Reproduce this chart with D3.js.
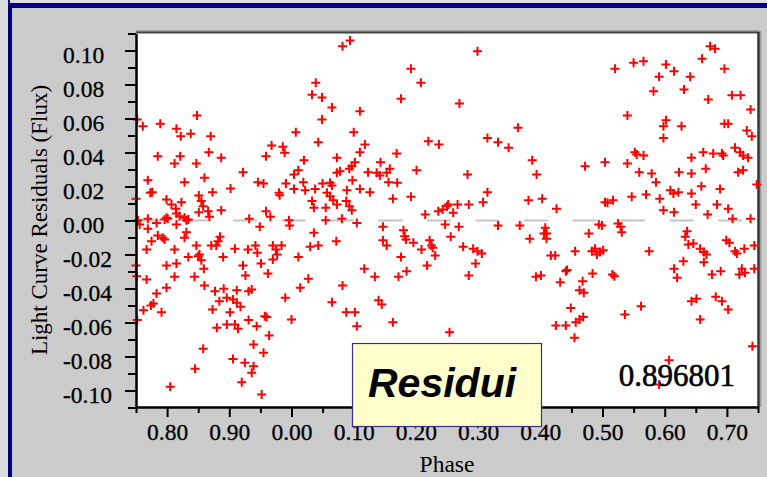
<!DOCTYPE html>
<html><head><meta charset="utf-8">
<script src="https://cdn.jsdelivr.net/npm/d3@7"></script>
<style>html,body{margin:0;padding:0;background:#cccccc;overflow:hidden}svg{display:block}</style>
</head><body>
<svg id="chart" width="767" height="477"></svg>
<script>
// ---- data (phase in [0,1), residual flux) ----
const phase = [
0.082,0.094,0.192,0.208,0.039,0.033,0.049,0.176,0.065,0.110,0.848,0.752,0.761,0.789,0.049,0.815,0.822,0.838,0.870,0.007,
0.100,0.299,0.270,0.364,0.315,0.520,0.550,0.566,0.591,0.602,0.615,0.641,0.582,0.631,0.660,0.673,0.681,0.696,0.670,0.708,
0.722,0.738,0.540,0.602,0.598,0.627,0.598,0.696,0.702,0.732,0.740,0.968,0.986,0.989,0.959,0.785,0.821,0.812,0.867,0.887,
0.847,0.922,0.769,0.828,0.860,0.946,0.955,0.991,0.902,0.773,0.776,0.980,0.981,0.873,0.750,0.799,0.851,0.807,0.814,0.823,
0.855,0.858,0.851,0.866,0.868,0.887,0.799,0.796,0.801,0.815,0.820,0.828,0.834,0.831,0.753,0.769,0.783,0.756,0.769,0.959,
0.966,0.932,0.949,0.996,0.997,0.785,0.793,0.796,0.815,0.831,0.828,0.767,0.775,0.812,0.847,0.885,0.882,0.871,0.879,0.852,
0.850,0.855,0.834,0.890,0.909,0.930,0.942,0.945,0.970,0.984,0.975,0.977,0.970,0.951,0.962,0.922,0.926,0.750,0.751,0.799,
0.815,0.812,0.844,0.859,0.767,0.799,0.860,0.891,0.043,0.118,0.110,0.169,0.220,0.237,0.020,0.073,0.102,0.097,0.143,0.201,
0.011,0.004,0.073,0.078,0.093,0.123,0.137,0.142,0.153,0.158,0.019,0.022,0.004,0.038,0.050,0.062,0.065,0.098,0.089,0.110,
0.126,0.156,0.170,0.057,0.062,0.067,0.033,0.036,0.055,0.073,0.088,0.093,0.097,0.163,0.192,0.215,0.236,0.243,0.250,0.055,
0.081,0.105,0.147,0.180,0.182,0.184,0.247,0.036,0.072,0.147,0.153,0.196,0.209,0.222,0.225,0.227,0.231,0.030,0.043,0.011,
0.176,0.218,0.185,0.172,0.117,0.134,0.027,0.014,0.082,0.332,0.349,0.387,0.394,0.283,0.472,0.315,0.308,0.285,0.252,0.267,
0.260,0.381,0.403,0.426,0.332,0.367,0.408,0.410,0.406,0.410,0.383,0.269,0.256,0.494,0.478,0.276,0.292,0.299,0.306,0.296,
0.285,0.417,0.424,0.456,0.483,0.488,0.491,0.496,0.441,0.443,0.432,0.393,0.401,0.484,0.468,0.552,0.555,0.566,0.504,0.540,
0.559,0.579,0.586,0.643,0.662,0.678,0.692,0.694,0.713,0.721,0.726,0.734,0.666,0.623,0.643,0.718,0.726,0.748,0.659,0.689,
0.504,0.508,0.517,0.547,0.570,0.592,0.609,0.614,0.622,0.643,0.650,0.684,0.702,0.598,0.615,0.669,0.709,0.738,0.499,0.525,
0.529,0.531,0.636,0.633,0.501,0.575,0.638,0.646,0.657,0.663,0.667,0.699,0.704,0.713,0.716,0.728,0.744,0.630,0.663,0.615,
0.620,0.676,0.690,0.720,0.724,0.729,0.744,0.516,0.519,0.877,0.912,0.931,0.936,0.896,0.884,0.906,0.912,0.873,0.901,0.918,
0.990,0.783,0.778,0.774,0.762,0.791,0.752,0.880,0.896,0.909,0.914,0.931,0.944,0.957,0.960,0.964,0.000,0.858,0.939,0.955,
0.906,0.925,0.939,0.936,0.845,0.920,0.805,0.952,0.065,0.088,0.102,0.105,0.140,0.145,0.163,0.254,0.449,0.425,0.441,0.457,
0.469,0.463,0.455,0.536,0.562,0.607,0.591,0.657,0.643,0.651,0.682,0.692,0.702,0.741,0.463,0.470
];
const flux = [
0.1025,0.1059,0.0892,0.0810,0.0810,0.0739,0.0724,0.0716,0.0665,0.0643,0.0618,0.0594,0.0555,0.0569,0.0594,0.0539,0.0496,0.0510,0.0496,0.0519,
0.0519,0.0996,0.0688,0.0545,0.0486,0.0892,0.0928,0.0937,0.0845,0.0918,0.0878,0.0845,0.0761,0.0771,0.0951,0.1025,0.1010,0.0892,0.0712,0.0737,
0.0737,0.0653,0.0618,0.0590,0.0555,0.0555,0.0486,0.0569,0.0569,0.0529,0.0496,0.0441,0.0434,0.0398,0.0378,0.0378,0.0378,0.0335,0.0402,0.0369,
0.0335,0.0284,0.0237,0.0225,0.0251,0.0225,0.0218,0.0218,0.0188,0.0163,0.0166,0.0163,0.0149,0.0166,0.0128,0.0124,0.0147,0.0094,0.0069,0.0108,
0.0114,0.0084,0.0049,0.0055,0.0022,0.0061,0.0016,0.0006,0.0010,0.0041,0.0025,0.0016,0.0006,0.0002,0.0002,0.0010,-0.0014,-0.0024,-0.0049,0.0055,
0.0022,0.0010,-0.0037,0.0002,-0.0029,-0.0088,-0.0102,-0.0112,-0.0024,-0.0069,-0.0102,-0.0171,-0.0122,-0.0171,-0.0147,-0.0096,-0.0122,-0.0147,-0.0147,-0.0200,
-0.0210,-0.0234,-0.0214,-0.0214,-0.0166,-0.0171,-0.0147,-0.0190,-0.0147,-0.0147,-0.0171,-0.0200,-0.0229,-0.0253,-0.0312,-0.0265,-0.0324,-0.0265,-0.0328,-0.0265,
-0.0253,-0.0331,-0.0331,-0.0284,-0.0347,-0.0396,-0.0382,-0.0402,0.0461,0.0447,0.0402,0.0394,0.0466,0.0447,0.0355,0.0369,0.0343,0.0319,0.0343,0.0296,
0.0296,0.0271,0.0281,0.0290,0.0304,0.0284,0.0281,0.0265,0.0281,0.0304,0.0225,0.0178,0.0186,0.0186,0.0218,0.0222,0.0206,0.0237,0.0178,0.0186,
0.0166,0.0225,0.0222,0.0163,0.0143,0.0119,0.0114,0.0075,0.0075,0.0094,0.0114,0.0084,0.0061,0.0128,0.0139,0.0035,0.0055,0.0065,0.0084,0.0002,
0.0010,-0.0014,-0.0037,-0.0057,-0.0092,-0.0112,-0.0024,-0.0072,-0.0122,-0.0116,-0.0147,-0.0131,-0.0171,-0.0116,-0.0147,-0.0161,-0.0206,-0.0155,-0.0147,-0.0214,
-0.0214,-0.0265,-0.0298,-0.0331,-0.0284,-0.0331,-0.0343,-0.0396,-0.0382,0.0461,0.0428,0.0355,0.0271,0.0271,0.0319,0.0166,0.0108,0.0094,0.0094,0.0094,
0.0045,0.0119,0.0128,0.0069,-0.0029,-0.0029,-0.0043,-0.0076,-0.0076,-0.0108,-0.0108,-0.0037,-0.0096,-0.0024,-0.0076,-0.0155,-0.0166,-0.0181,-0.0194,-0.0253,
-0.0324,-0.0206,-0.0206,-0.0181,-0.0181,-0.0166,-0.0200,-0.0186,-0.0298,-0.0291,-0.0363,-0.0331,-0.0324,-0.0312,-0.0357,0.0402,0.0388,0.0382,0.0343,0.0335,
0.0284,0.0276,0.0225,0.0369,0.0402,0.0394,0.0394,0.0382,0.0428,0.0402,0.0382,0.0369,0.0304,0.0284,0.0276,0.0284,0.0296,0.0212,0.0202,0.0186,
0.0108,0.0104,0.0119,0.0139,0.0153,0.0128,0.0178,0.0159,0.0166,0.0159,0.0094,0.0094,0.0069,0.0061,0.0049,0.0035,0.0010,0.0010,-0.0029,-0.0018,
-0.0037,-0.0069,-0.0063,-0.0096,-0.0175,-0.0181,-0.0141,-0.0135,-0.0166,-0.0186,-0.0200,-0.0116,-0.0131,-0.0181,-0.0194,-0.0166,-0.0147,-0.0239,-0.0245,-0.0284,
-0.0337,-0.0318,-0.0298,-0.0318,-0.0284,-0.0308,-0.0284,-0.0318,-0.0328,-0.0416,-0.0410,-0.0416,-0.0406,-0.0455,-0.0475,-0.0465,-0.0484,-0.0524,-0.0539,-0.0508,
-0.0455,-0.0429,-0.0488,-0.0500,-0.0528,-0.0539,-0.0586,-0.0631,-0.0612,-0.0612,-0.0637,-0.0586,-0.0622,-0.0563,-0.0567,-0.0676,-0.0582,-0.0755,-0.0729,-0.0778,
-0.0814,-0.0837,-0.0857,-0.0896,-0.0872,-0.0951,-0.0978,-0.1024,-0.0481,-0.0539,-0.0539,-0.0622,-0.0469,-0.0494,-0.0598,-0.0657,-0.0514,-0.0618,-0.0618,-0.0598,
-0.0567,-0.0582,-0.0690,-0.0553,-0.0504,-0.0822,-0.0965,-0.0582,-0.0475,-0.0461,-0.0449,-0.0475,-0.0524,-0.0739,-0.0410,-0.0425
];
const xTickValues = [0.80,0.90,1.00,1.10,1.20,1.30,1.40,1.50,1.60,1.70];
const xTickLabels = ["0.80","0.90","0.00","0.10","0.20","0.30","0.40","0.50","0.60","0.70"];
const xMinorTicks = [0.75,0.85,0.95,1.05,1.15,1.25,1.35,1.45,1.55,1.65,1.75];
const yTickValues = [0.10,0.08,0.06,0.04,0.02,0.00,-0.02,-0.04,-0.06,-0.08,-0.10];
const yTickLabels = ["0.10","0.08","0.06","0.04","0.02","0.00","-0.02","-0.04","-0.06","-0.08","-0.10"];
const yMinorTicks = [0.11,0.09,0.07,0.05,0.03,0.01,-0.01,-0.03,-0.05,-0.07,-0.09,-0.11];
const xTitle = "Phase";
const yTitle = "Light Curve Residuals (Flux)";
const periodText = "0.896801";
const boxText = "Residui";

// ---- drawing ----
const W = 767, H = 477;
const P = {l:136, r:758, t:33, b:407};
const serif = "'Liberation Serif','Times New Roman',Times,serif";
const svg = d3.select("#chart");

// page background and panel frame
svg.append("rect").attr("width",W).attr("height",H).attr("fill","#dcdcdc");
svg.append("rect").attr("x",8).attr("y",3).attr("width",W).attr("height",H).attr("fill","#cccccc");
svg.append("rect").attr("x",8).attr("y",3).attr("width",W).attr("height",5).attr("fill","#000080");
svg.append("rect").attr("x",8).attr("y",3).attr("width",4).attr("height",H).attr("fill","#000080");
svg.append("rect").attr("x",8).attr("y",0).attr("width",2).attr("height",3).attr("fill","#000080");

const x = d3.scaleLinear().domain([0.75,1.75]).range([P.l,P.r]);
const y = d3.scaleLinear().domain([-0.11,0.11]).range([P.b+0.5,P.t+0.5]);
const wrap = p => (p < 0.75 ? p + 1 : p);

// plot area with shadowed frame
svg.append("line").attr("x1",P.l).attr("x2",P.r+3).attr("y1",P.t-2).attr("y2",P.t-2).attr("stroke","#9a9a9a").attr("stroke-width",1.5);
svg.append("line").attr("x1",P.r+2.5).attr("x2",P.r+2.5).attr("y1",P.t-2).attr("y2",P.b).attr("stroke","#9a9a9a").attr("stroke-width",1.5);
svg.append("rect").attr("x",P.l).attr("y",P.t).attr("width",P.r-P.l).attr("height",P.b-P.t).attr("fill","#ffffff");
svg.append("line").attr("x1",P.l).attr("x2",P.r+1).attr("y1",P.t-0.5).attr("y2",P.t-0.5).attr("stroke","#444").attr("stroke-width",2);
svg.append("line").attr("x1",P.r+0.5).attr("x2",P.r+0.5).attr("y1",P.t-1).attr("y2",P.b).attr("stroke","#333").attr("stroke-width",2.5);

// zero reference line
svg.append("line").attr("x1",P.l).attr("x2",P.r).attr("y1",y(0)).attr("y2",y(0))
  .attr("stroke","#c4c4c4").attr("stroke-width",2).attr("stroke-dasharray","24 24.5");

// points
const data = phase.map((p,i)=>({p, f: flux[i]}));
svg.append("g").selectAll("path").data(data).join("path")
  .attr("transform", d => `translate(${x(wrap(d.p))},${y(d.f)})`)
  .attr("d","M-4.5,0H4.5M0,-4.5V4.5")
  .attr("stroke","#ff0000").attr("stroke-width",2).attr("fill","none");

// axes
function styleAxis(g){
  g.select(".domain").attr("stroke","#000").attr("stroke-width",2);
  g.selectAll(".tick line").attr("stroke","#000").attr("stroke-width",2);
  g.selectAll("text").attr("font-family",serif).attr("font-size","23.5px").attr("fill","#000")
    .attr("stroke","#000").attr("stroke-width",0.3);
}
const gxMinor = svg.append("g").attr("transform",`translate(0,${P.b})`)
  .call(d3.axisBottom(x).tickValues(xMinorTicks).tickSize(6).tickSizeOuter(0).tickFormat(""));
styleAxis(gxMinor);
const gx = svg.append("g").attr("transform",`translate(0,${P.b})`)
  .call(d3.axisBottom(x).tickValues(xTickValues).tickSize(10).tickSizeOuter(0).tickFormat((d,i)=>xTickLabels[i]));
styleAxis(gx);
gx.selectAll("text").attr("y",33).attr("dy",0);

const gyMinor = svg.append("g").attr("transform",`translate(${P.l},0)`)
  .call(d3.axisLeft(y).tickValues(yMinorTicks).tickSize(8).tickSizeOuter(0).tickFormat(""));
styleAxis(gyMinor);
const gy = svg.append("g").attr("transform",`translate(${P.l},0)`)
  .call(d3.axisLeft(y).tickValues(yTickValues).tickSize(11).tickSizeOuter(0).tickFormat((d,i)=>yTickLabels[i]));
styleAxis(gy);
gy.selectAll("text").attr("text-anchor","start").attr("x",63-P.l).attr("dy",0).attr("y",11.5);

// axis titles
svg.append("text").attr("x",(P.l+P.r)/2).attr("y",472).attr("text-anchor","middle")
  .attr("font-family",serif).attr("font-size","23.5px").attr("fill","#000").text(xTitle);
svg.append("text").attr("transform",`translate(47,${(P.t+P.b)/2}) rotate(-90)`).attr("text-anchor","middle")
  .attr("font-family",serif).attr("font-size","23px").attr("fill","#000").text(yTitle);

// period value
svg.append("text").attr("x",735).attr("y",386).attr("text-anchor","end")
  .attr("font-family",serif).attr("font-size","31px").attr("fill","#000")
  .attr("stroke","#000").attr("stroke-width",0.6).text(periodText);

// label box
svg.append("rect").attr("x",352.5).attr("y",343.5).attr("width",189).attr("height",83)
  .attr("fill","#ffffcc").attr("stroke","#3c2c8c").attr("stroke-width",1.2);
svg.append("text").attr("x",368).attr("y",397)
  .attr("font-family","'Liberation Sans',Arial,Helvetica,sans-serif").attr("font-size","41px")
  .attr("font-weight","bold").attr("font-style","italic").attr("fill","#000").text(boxText);
</script>
</body></html>
